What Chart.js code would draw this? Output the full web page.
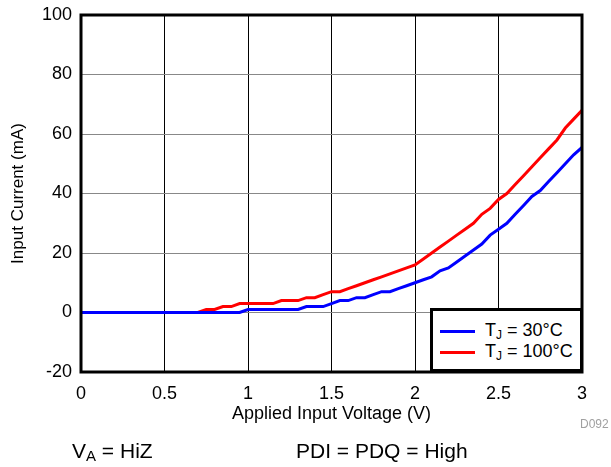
<!DOCTYPE html>
<html>
<head>
<meta charset="utf-8">
<script src="https://cdn.jsdelivr.net/npm/chart.js@4/dist/chart.umd.min.js"></script>
<style>
  body { margin: 0; background: #fff; font-family: "Liberation Sans", Arial, sans-serif; }
  #wrap { position: relative; width: 611px; height: 467px; }
  #legend { position: absolute; left: 430px; top: 308px; width: 147px; height: 58px;
            border: 3px solid #000; background: #fff; font-size: 18px; color: #000; }
  .row { position: absolute; left: 7px; height: 20px; line-height: 20px; white-space: nowrap; }
  .row span.ln { display: inline-block; width: 35px; height: 3px; vertical-align: middle; margin-right: 10px; }
  sub { font-size: 12px; vertical-align: -3px; }
  .note { position: absolute; font-size: 21px; color: #000; white-space: nowrap; }
  #dcode { position: absolute; left: 580px; top: 417px; font-size: 12px; color: #a0a0a0; }
</style>
</head>
<body>
<div id="wrap">
  <canvas id="chart" width="611" height="467"></canvas>
  <div id="legend">
    <div class="row" style="top:9px"><span class="ln" style="background:#0000ff"></span>T<sub>J</sub> = 30°C</div>
    <div class="row" style="top:30px"><span class="ln" style="background:#ff0000"></span>T<sub>J</sub> = 100°C</div>
  </div>
  <div id="dcode">D092</div>
  <div class="note" style="left:72px; top:439px">V<sub style="font-size:15px">A</sub> = HiZ</div>
  <div class="note" style="left:296px; top:439px">PDI = PDQ = High</div>
</div>
<script>
// applied input voltage (V)
var voltage = [0, 0.05, 0.1, 0.15, 0.2, 0.25, 0.3, 0.35, 0.4, 0.45, 0.5, 0.55, 0.6, 0.65, 0.7, 0.75, 0.8, 0.85, 0.9, 0.95,
  1, 1.05, 1.1, 1.15, 1.2, 1.25, 1.3, 1.35, 1.4, 1.45, 1.5, 1.55, 1.6, 1.65, 1.7, 1.75, 1.8, 1.85, 1.9, 1.95,
  2, 2.05, 2.1, 2.15, 2.2, 2.25, 2.3, 2.35, 2.4, 2.45, 2.5, 2.55, 2.6, 2.65, 2.7, 2.75, 2.8, 2.85, 2.9, 2.95, 3];
// input current (mA)
var current30 = [0, 0, 0, 0, 0, 0, 0, 0, 0, 0, 0, 0, 0, 0, 0, 0, 0, 0, 0, 0,
  1, 1, 1, 1, 1, 1, 1, 2, 2, 2, 3, 4, 4, 5, 5, 6, 7, 7, 8, 9,
  10, 11, 12, 14, 15, 17, 19, 21, 23, 26, 28, 30, 33, 36, 39, 41, 44, 47, 50, 53, 55.5];
var current100 = [0, 0, 0, 0, 0, 0, 0, 0, 0, 0, 0, 0, 0, 0, 0, 1, 1, 2, 2, 3,
  3, 3, 3, 3, 4, 4, 4, 5, 5, 6, 7, 7, 8, 9, 10, 11, 12, 13, 14, 15,
  16, 18, 20, 22, 24, 26, 28, 30, 33, 35, 38, 40, 43, 46, 49, 52, 55, 58, 62, 65, 68];
var xTicks = [0, 0.5, 1, 1.5, 2, 2.5, 3];
var yTicks = [-20, 0, 20, 40, 60, 80, 100];

function pts(ys) {
  return voltage.map(function (v, i) { return { x: v, y: ys[i] }; });
}

// thick frame around the plot
var frame = {
  id: 'frame',
  afterDatasetsDraw: function (chart) {
    var a = chart.chartArea, ctx = chart.ctx;
    ctx.save();
    ctx.lineWidth = 3;
    ctx.strokeStyle = '#000';
    ctx.strokeRect(a.left, a.top, a.right - a.left, a.bottom - a.top);
    ctx.restore();
  }
};

var tickFont = { family: '"Liberation Sans", Arial, sans-serif', size: 18 };
var yTitleFont = { family: '"Liberation Sans", Arial, sans-serif', size: 17 };

new Chart(document.getElementById('chart'), {
  type: 'line',
  data: {
    datasets: [
      { label: 'TJ = 30°C', data: pts(current30), borderColor: '#0000ff', borderWidth: 3, pointRadius: 0, tension: 0 },
      { label: 'TJ = 100°C', data: pts(current100), borderColor: '#ff0000', borderWidth: 3, pointRadius: 0, tension: 0 }
    ]
  },
  options: {
    responsive: false,
    animation: false,
    layout: { padding: { top: 15, right: 29, left: 0, bottom: 0 } },
    plugins: { legend: { display: false }, tooltip: { enabled: false } },
    scales: {
      x: {
        type: 'linear', min: 0, max: 3,
        afterBuildTicks: function (s) { s.ticks = xTicks.map(function (v) { return { value: v }; }); },
        afterFit: function (s) { s.height = 95; s.paddingLeft = 0; s.paddingRight = 0; },
        grid: { color: '#000', lineWidth: 1, drawTicks: false },
        border: { display: false },
        ticks: { color: '#000', font: tickFont, padding: 11, maxRotation: 0,
                 callback: function (v) { return String(v); } },
        title: { display: true, text: 'Applied Input Voltage (V)', color: '#000', font: tickFont, padding: { top: 0, bottom: 42 } }
      },
      y: {
        min: -20, max: 100,
        afterBuildTicks: function (s) { s.ticks = yTicks.map(function (v) { return { value: v }; }); },
        afterFit: function (s) { s.width = 81; s.paddingTop = 0; s.paddingBottom = 0; },
        grid: { color: '#888', lineWidth: 1, drawTicks: false },
        border: { display: false },
        ticks: { color: '#000', font: tickFont, padding: 9 },
        title: { display: true, text: 'Input Current (mA)', color: '#000', font: yTitleFont, padding: { top: 8, bottom: 0 } }
      }
    }
  },
  plugins: [frame]
});
</script>
</body>
</html>
